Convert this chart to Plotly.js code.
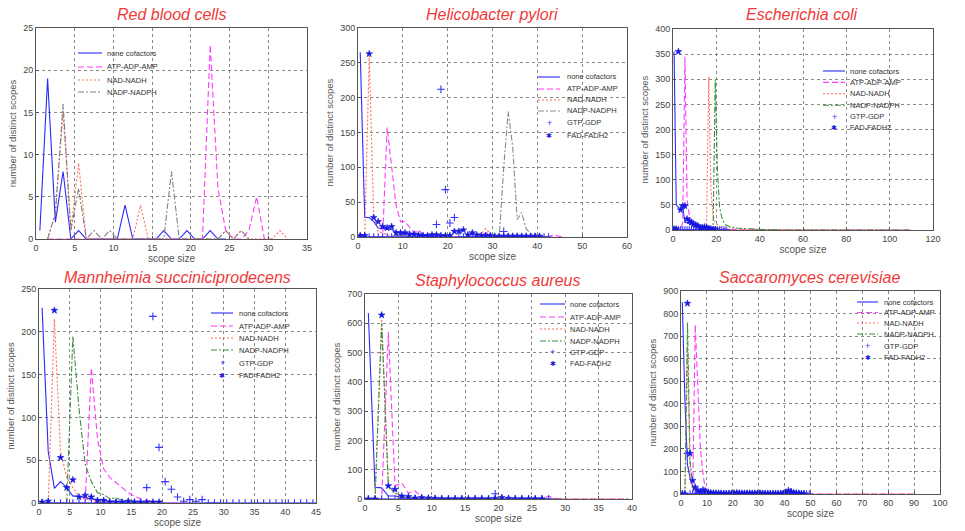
<!DOCTYPE html>
<html><head><meta charset="utf-8">
<script src="https://cdn.plot.ly/plotly-3.0.1.min.js"></script>
<style>html,body{margin:0;padding:0;background:#fff}#chart{width:965px;height:531px}</style>
</head><body><div id="chart"></div>
<script>
// ---------- data ----------
const seriesNames = ['none cofactors','ATP-ADP-AMP','NAD-NADH','NADP-NADPH','GTP-GDP','FAD-FADH2'];
const panelTitles = ['Red blood cells','Helicobacter pylori','Escherichia coli','Mannheimia succiniciprodecens','Staphylococcus aureus','Saccaromyces cerevisiae'];
const xTitle = 'scope size';
const yTitle = 'number of distinct scopes';

// Red blood cells
const rbcX = [0.5,1.5,2.5,3.5,4.5,5.5,6.5,7.5,8.5,9.5,10.5,11.5,12.5,13.5,14.5,15.5,16.5,17.5,18.5,19.5,20.5,21.5,22.5,23.5,24.5,25.5,26.5,27.5,28.5,29.5,30.5,31.5,32.5];
const rbcNone = [1,19,2,8,0,1,0,0,0,0,0,4,0,0,0,0,1,0,0,1,0,0,1,0,0];
const rbcAtp  = [null,0,0,0,0,0,0,0,0,0,0,0,0,0,0,0,0,0,0,0,0,0,23,6,1,0,0,1,5,0,0];
const rbcNad  = [null,0,3,15,1,9,0,0,0,0,0,0,0,4,0,0,0,0,0,0,0,0,0,0,1,0,1,0,0,0,0,1,0];
const rbcNadp = [null,0,3,16,1,6,0,1,0,1,0,0,0,0,0,0,0,8,0,0,0,0,0,0,1,0,1,0];

// Helicobacter pylori
const hpX = [0.5,1.5,2.5,3.5,4.5,5.5,6.5,7.5,8.5,9.5,10.5,11.5,12.5,13.5,14.5,15.5,16.5,17.5,18.5,19.5,20.5,21.5,22.5,23.5,24.5,25.5,26.5,27.5,28.5,29.5,30.5,31.5,32.5,33.5,34.5,35.5,36.5,37.5,38.5,39.5,40.5,41.5,42.5,43.5,44.5,45.5];
const hpNone = [265,28,28,22,13,12,12,11,7,6,5,4,4,3,2,2,2,1,1,1,1,0,0,0,0,0,0,0,0,0,0,0,0,0,0,0,0,0,0,0,0,0,0];
const hpAtp  = [0,0,0,0,0,0,157,100,45,22,22,14,6,10,4,3,2,1,1,1,1,0,0,0,0,0,0,0,8,0,0,0,0,0,0,0,0,0,0,0,0,0,0,3,2,0];
const hpNad  = [0,0,260,30,8,5,3,2,2,1,1,1,0,0,0,0,0,0,0,0,0,0,0,0,0,0,0,5,12,5,0,0,0,0,0,0,0,0,0,0,0,0,0];
const hpNadp = [0,0,0,0,0,0,0,0,0,0,0,0,0,0,0,0,0,0,0,0,0,0,0,0,0,0,0,0,0,0,0,0,100,180,130,25,35,12,5,2,2,1,0];
const hpGtp  = [0,0,0,0,0,0,0,0,0,0,0,0,0,0,0,0,0,18,212,68,20,28,0,0,0,0,0,0,0,0,0,0,8,0,0,0,0,0,0,0,0,0,0];
const hpFad  = [2,2,263,28,22,15,13,15,6,6,6,4,4,3,2,2,3,3,2,2,2,8,8,10,3,6,3,2,2,2,1,1,1,1,1,1,1,1,1,1,1];

// Escherichia coli
const ecX = [0.5,1.5,2.5,3.5,4.5,5.5,6.5,7.5,8.5,9.5,10.5,11.5,12.5,13.5,14.5,15.5,16.5,17.5,18.5,19.5,20.5,21.5,22.5,23.5,24.5,25.5,26.5,27.5,28.5,29.5,35,40,45,50,60,70,80,90,100,110];
const ecNone = [355,50,45,42,45,15,15,12,10,8,7,6,5,4,4,3,3,2,2,2,1,1,1,1,0,0,0,0,0,0];
const ecAtp  = [0,0,0,0,15,345,60,30,20,15,10,8,6,5,4,3,3,2,2,2,1,1,1,1,1,1,1,1,1,1,1,2,1,0,0,0,0,0,0,0];
const ecNad  = [0,0,0,0,0,0,0,0,0,0,0,0,0,0,0,10,305,80,30,15,10,6,4,3,2,2,1,1,1,1,1,1,1,0,0,0,0,0,0,0];
const ecNadp = [0,0,0,0,0,0,0,0,0,0,0,0,0,0,0,0,0,0,0,300,120,45,25,15,10,8,5,5,6,4,2,1,1,0,0,0,0,0,0,0];
const ecGtp  = [0,0,0,0,0,0,0,0,0,0,0,0,0,0,0,0,0,0,0,0,0,0,0,0,0];
const ecFad  = [2,2,355,40,48,48,22,18,15,12,10,8,5,5,6,5,3,2,1,1];

// Mannheimia succiniciproducens
const msX = [0.5,1.5,2.5,3.5,4.5,5.5,6.5,7.5,8.5,9.5,10.5,11.5,12.5,13.5,14.5,15.5,16.5,17.5,18.5,19.5,20.5,21.5,22.5,23.5,24.5,25.5,26.5,27.5,28.5,29.5,30.5,31.5,32.5,33.5,34.5,35.5,36.5,37.5,38.5,39.5,40.5,41.5,42.5,43.5,44.5];
const msNone = [228,60,17,25,18,8,8,6,5,4,3,2,2,1,1,0,0,0,0,0,0,0,0,0,0,0,0,0,0,0];
const msAtp  = [0,0,0,0,0,0,0,0,158,75,40,30,24,18,12,8,5,3,1,0,0,0,0,0,0];
const msNad  = [0,0,215,60,30,18,8,5,3,2,2,1,1,0,0,0,0,0,0,0];
const msNadp = [0,0,0,0,0,195,110,45,25,12,10,5,6,3,3,2,1,1,0,0,0];
const msGtp  = [0,0,0,0,0,0,0,0,0,0,0,0,0,0,0,0,0,18,218,65,25,16,7,2,4,2,4,0,0,0,0,0,0,0,0,0,0,0,0,0,0,0,0,0,0];
const msFad  = [1,2,225,53,18,27,7,9,7,3,3,1,1,1,2,1,1,1,1,1];

// Staphylococcus aureus
const saX = [0.5,1.5,2.5,3.5,4.5,5.5,6.5,7.5,8.5,9.5,10.5,11.5,12.5,13.5,14.5,15.5,16.5,17.5,18.5,19.5,20.5,21.5,22.5,23.5,24.5,25.5,26.5,27.5,28.5,29.5,30.5,31.5,32.5,33.5,34.5,35.5,36.5,37.5,38.5,39.5];
const saNone = [635,40,38,10,10,5,3,2,1,0,0,0,0,0,0,0,0,0,0,0,0,0,0,0,0,0,0,0,0,0];
const saAtp  = [0,0,0,570,45,55,20,28,5,3,2,1,1,0,0,0,0,0,0,0,0,0,0,0,0,0,0,10,2,0,0,0,0,0,0,0,0,0,0,0];
const saNad  = [0,0,615,40,20,10,5,3,2,1,0,0,0,0,0,0,0,0,0,0,0,0,0,0,0,0,0,0,0,0,0,0,0,0,0,0,0,0,0,0];
const saNadp = [0,0,600,45,20,10,5,3,2,1,0,0,0,0,0,0,0,0,0,0,0,0,0,0,0,0,0,0,0,0];
const saGtp  = [0,0,0,0,0,0,0,0,0,0,0,0,0,0,0,0,0,0,0,18,0,0,0,0,0,0,0,0];
const saFad  = [0,0,628,45,33,10,8,3,5,3,2,1,1,1,1,1,1,1,1,2,5,2,1,1,1,1,1];

// Saccharomyces cerevisiae
const scX = [0.5,1.5,2.5,3.5,4.5,5.5,6.5,7.5,8.5,9.5,10.5,11.5,12.5,13.5,14.5,15.5,16.5,17.5,18.5,19.5,20.5,21.5,22.5,23.5,24.5,25.5,26.5,27.5,28.5,29.5,30.5,31.5,32.5,33.5,34.5,35.5,36.5,37.5,38.5,39.5,40.5,41.5,42.5,43.5,44.5,45.5,46.5,47.5,48.5,49.5,55,60,70,80,90];
const scNone = [850,420,130,70,35,20,12,8,6,5,4,3,3,2,2,2,1,1,1,1,0,0,0,0,0,0,0,0,0,0,0,0,0,0,0,0,0,0,0,0,0,0,0,0,0,0,0,0,0,0];
const scAtp  = [0,0,0,0,0,750,450,200,90,10,2,1,0,0,0,0,0,0,0,0,0,0,0,0,0,0,0,0,0,0,0,0,0,0,0,0,0,0,0,0,0,0,0,0,0,0,0,0,0,0,0,0,0,0,0];
const scNad  = [0,0,650,80,20,5,2,1,0,0,0,0,0,0,0,0,0,0,0,0,0,0,0,0,0,0,0,0,0,0,0,0,0,0,0,0,0,0,0,0,0,0,0,0,0,0,0,0,0,0,0,0,0,0,0];
const scNadp = [0,0,760,150,30,8,3,1,0,0,0,0,0,0,0,0,0,0,0,0,0,0,0,0,0,0,0,0,0,0,0,0,0,0,0,0,0,0,0,0,0,0,0,0,0,0,0,0,0,0];
const scGtp  = [0,0,180,0,0,0,0,0,0,0,0,0,0,0,0,0,0,0,0,0,0,0,0,0,0,0,0,0,0,0,0,0,0,0,0,0,0,0,0,0,0,0,10,0,0,0,0,0,0,0];
const scFad  = [0,0,845,180,60,30,15,10,18,12,8,5,4,3,3,3,2,2,2,3,4,5,4,3,3,3,3,3,3,3,4,3,2,2,2,2,2,2,2,3,8,15,10,6,4,3,2,1];

// axis ranges / ticks
const xRanges = [[0,35],[0,60],[0,120],[0,45],[0,40],[0,100]];
const yRanges = [[0,25],[0,300],[0,400],[0,250],[0,700],[0,900]];
const xDticks = [5,10,20,5,5,10];
const yDticks = [5,50,50,50,100,100];

// ---------- layout geometry (pixels in a 965x531 page) ----------
const W = 965, H = 531;
const PX = p => p / W, PY = p => 1 - p / H;
const boxes = [ // [left, right, top, bottom]
  [36,307,28,239],[358,627,28,237],[673,933,29,230],
  [39,316,289,503],[365,632,294,499],[681,940,291,494]
];
const titlePos = [[171,14],[492,14],[802,15],[177,277],[497,280],[810,277]];
const legendPos = [
  {x0:78,x1:102,tx:105,rows:[53,67,80,92]},
  {x0:538,x1:560,tx:565,rows:[77,89,100,111,123,135]},
  {x0:823,x1:845,tx:848,rows:[71,82.4,93.8,105.2,116.6,128]},
  {x0:211,x1:233,tx:237,rows:[313,326,338,350,363,375]},
  {x0:540,x1:565,tx:568,rows:[304,317,329,341,352,363]},
  {x0:857,x1:878,tx:882,rows:[302,312.5,323,334,346,357]}
];

const panels = [
  {x:rbcX, s:[rbcNone,rbcAtp,rbcNad,rbcNadp], green:'#808080'},
  {x:hpX, s:[hpNone,hpAtp,hpNad,hpNadp,hpGtp,hpFad], green:'#8a8a8a'},
  {x:ecX, s:[ecNone,ecAtp,ecNad,ecNadp,ecGtp,ecFad], green:'#3d8f3d'},
  {x:msX, s:[msNone,msAtp,msNad,msNadp,msGtp,msFad], green:'#3d8f3d'},
  {x:saX, s:[saNone,saAtp,saNad,saNadp,saGtp,saFad], green:'#3d8f3d'},
  {x:scX, s:[scNone,scAtp,scNad,scNadp,scGtp,scFad], green:'#3d8f3d'}
];

const BLUE = '#2a2aff', MAG = '#ff3cff', RED = '#ff6a5a', MARK = '#1818e0', CROSS = '#3535ff';
function lineStyle(i, green) {
  if (i === 0) return {color:BLUE, width:1.1, dash:'solid'};
  if (i === 1) return {color:MAG, width:1.1, dash:'6px,3px'};
  if (i === 2) return {color:RED, width:1.1, dash:'2px,2px'};
  return {color:green, width:1.1, dash:'6px,2px,2px,2px'};
}

const traces = [];
const layout = {
  width: W, height: H, margin:{l:0,r:0,t:0,b:0},
  paper_bgcolor:'#fff', plot_bgcolor:'#fff', showlegend:false,
  font:{family:'Arial, Liberation Sans, sans-serif', color:'#444'},
  annotations:[], shapes:[]
};

panels.forEach((p, k) => {
  const n = k + 1;
  const xa = 'x' + (n === 1 ? '' : n), ya = 'y' + (n === 1 ? '' : n);
  const b = boxes[k];
  const axCommon = {
    showgrid:true, gridcolor:'#6d6d6d', griddash:'dot', gridwidth:0.8,
    zeroline:false, showline:true, mirror:true, linecolor:'#555', linewidth:1,
    ticks:'inside', ticklen:3, tickcolor:'#555',
    tickfont:{family:'Arial, Liberation Sans, sans-serif', size:9, color:'#444'}
  };
  layout['xaxis' + (n === 1 ? '' : n)] = Object.assign({}, axCommon, {
    domain:[PX(b[0]), PX(b[1])], range:xRanges[k], dtick:xDticks[k], tick0:0,
    anchor: ya, title:{text:xTitle, standoff:2, font:{size:10, color:'#555'}}
  });
  layout['yaxis' + (n === 1 ? '' : n)] = Object.assign({}, axCommon, {
    domain:[PY(b[3]), PY(b[2])], range:yRanges[k], dtick:yDticks[k], tick0:0,
    anchor: xa, title:{text:yTitle, standoff:4, font:{size:9.5, color:'#555'}}
  });
  p.s.forEach((ys, i) => {
    const t = {x:p.x, y:ys, xaxis:xa, yaxis:ya, name:seriesNames[i], hoverinfo:'x+y+name'};
    if (i < 4) {
      t.mode = 'lines'; t.line = lineStyle(i, p.green);
    } else if (i === 4) {
      t.mode = 'markers';
      t.marker = {symbol:'cross-thin-open', size:5.5, color:CROSS, line:{width:1.1, color:CROSS}};
    } else {
      t.mode = 'markers';
      t.marker = {symbol:'star', size:5, color:MARK, line:{width:0.6, color:MARK}};
    }
    traces.push(t);
  });
  // panel title
  layout.annotations.push({
    text: panelTitles[k], xref:'paper', yref:'paper', x:PX(titlePos[k][0]), y:PY(titlePos[k][1]),
    xanchor:'center', yanchor:'middle', showarrow:false,
    font:{family:'Arial, Liberation Sans, sans-serif', size:16, color:'#f03a3a', style:'italic'}
  });
  // legend (drawn as key samples + labels)
  const L = legendPos[k];
  p.s.forEach((ys, i) => {
    const ry = L.rows[i];
    if (i < 4) {
      layout.shapes.push({type:'line', xref:'paper', yref:'paper',
        x0:PX(L.x0), x1:PX(L.x1), y0:PY(ry), y1:PY(ry), line:lineStyle(i, p.green)});
    } else {
      layout.annotations.push({text: i === 4 ? '+' : '✱', xref:'paper', yref:'paper',
        x:PX((L.x0 + L.x1) / 2), y:PY(ry), xanchor:'center', yanchor:'middle', showarrow:false,
        font:{size: i === 4 ? 9 : 7, color: i === 4 ? CROSS : MARK}});
    }
    layout.annotations.push({text: seriesNames[i], xref:'paper', yref:'paper',
      x:PX(L.tx), y:PY(ry), xanchor:'left', yanchor:'middle', showarrow:false,
      font:{family:'Arial, Liberation Sans, sans-serif', size:7.5, color:'#333'}});
  });
});

Plotly.newPlot('chart', traces, layout, {displayModeBar:false, staticPlot:true});
</script>
</body></html>
